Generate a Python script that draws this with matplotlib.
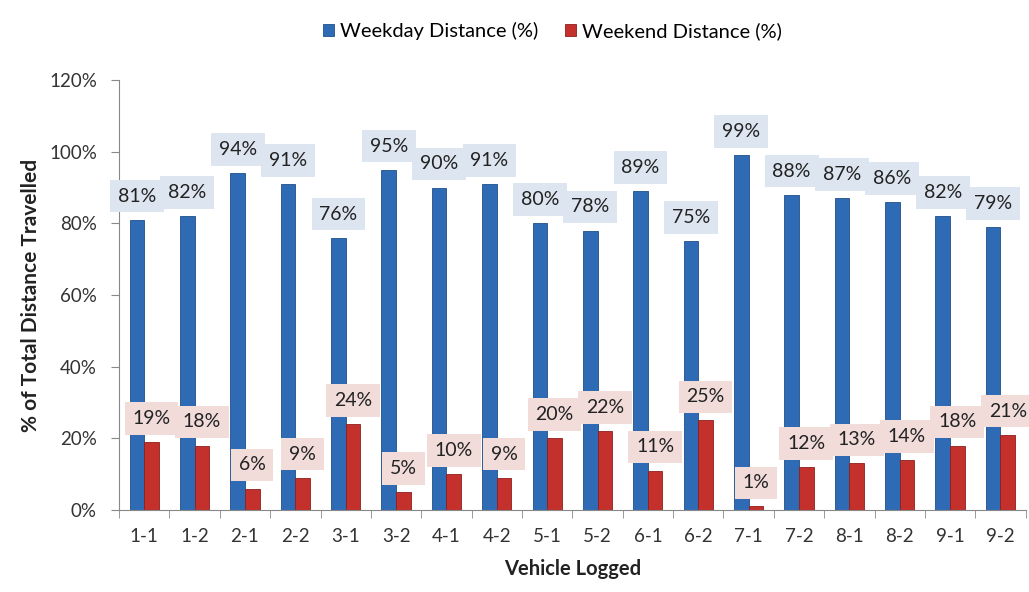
import matplotlib
matplotlib.use("Agg")
import matplotlib.pyplot as plt
import numpy as np

plt.rcParams['font.family'] = ['Lato', 'DejaVu Sans']

# chart data
vehicles = ["1-1", "1-2", "2-1", "2-2", "3-1", "3-2", "4-1", "4-2", "5-1",
            "5-2", "6-1", "6-2", "7-1", "7-2", "8-1", "8-2", "9-1", "9-2"]
weekday = [81, 82, 94, 91, 76, 95, 90, 91, 80, 78, 89, 75, 99, 88, 87, 86, 82, 79]
weekend = [19, 18, 6, 9, 24, 5, 10, 9, 20, 22, 11, 25, 1, 12, 13, 14, 18, 21]
yticks = [0, 20, 40, 60, 80, 100, 120]

blue = "#2f6bb5"
red = "#c4302b"
blue_box = "#dce5f0"
red_box = "#f1dcda"

fig = plt.figure(figsize=(10.29, 5.92), dpi=100)
ax = fig.add_axes([0.1157, 0.1385, 0.881, 0.7263])

x = np.arange(len(vehicles))
w = 0.29
ax.bar(x - w / 2, weekday, w, color=blue, edgecolor="#1f4f8a", linewidth=0.6,
       label="Weekday Distance (%)", zorder=2)
ax.bar(x + w / 2, weekend, w, color=red, edgecolor="#8e1f1c", linewidth=0.6,
       label="Weekend Distance (%)", zorder=2)

# data labels with filled boxes, offset above the bar tops
for i in range(len(vehicles)):
    ax.annotate("{}%".format(weekday[i]), (x[i] - w / 2, weekday[i]),
                xytext=(0, 17), textcoords="offset points", ha="center", va="center",
                fontsize=14, color="#222222", zorder=4,
                bbox=dict(boxstyle="square,pad=0.4", fc=blue_box, ec="none"))
    ax.annotate("{}%".format(weekend[i]), (x[i] + w / 2, weekend[i]),
                xytext=(0, 17), textcoords="offset points", ha="center", va="center",
                fontsize=14, color="#222222", zorder=4,
                bbox=dict(boxstyle="square,pad=0.4", fc=red_box, ec="none"),
                annotation_clip=False)

ax.set_xlim(-0.5, len(vehicles) - 0.5)
ax.set_ylim(0, 120)
ax.set_yticks(yticks)
ax.set_yticklabels(["{}%".format(v) for v in yticks], fontsize=13.5, color="#333333")
ax.set_xticks(x)
ax.set_xticklabels(vehicles, fontsize=13.5, color="#333333")
ax.set_xticks(np.arange(-0.5, len(vehicles)), minor=True)
ax.tick_params(axis="x", which="major", length=0, pad=13)
ax.tick_params(axis="x", which="minor", length=6, color="#888888")
ax.tick_params(axis="y", length=6, color="#888888", pad=10)

for s in ["top", "right"]:
    ax.spines[s].set_visible(False)
ax.spines["left"].set_color("#888888")
ax.spines["bottom"].set_color("#888888")

ax.set_ylabel("% of Total Distance Travelled", fontsize=15, fontweight="bold",
              color="#222222", labelpad=6)
ax.set_xlabel("Vehicle Logged", fontsize=14.5, fontweight="bold", color="#222222",
              labelpad=10)

fig.legend(loc="upper center", bbox_to_anchor=(0.537, 0.993), ncol=2, frameon=False,
           fontsize=14.5, handlelength=0.55, handleheight=0.55, handletextpad=0.3,
           columnspacing=1.3)

fig.savefig("out.png", dpi=100)
